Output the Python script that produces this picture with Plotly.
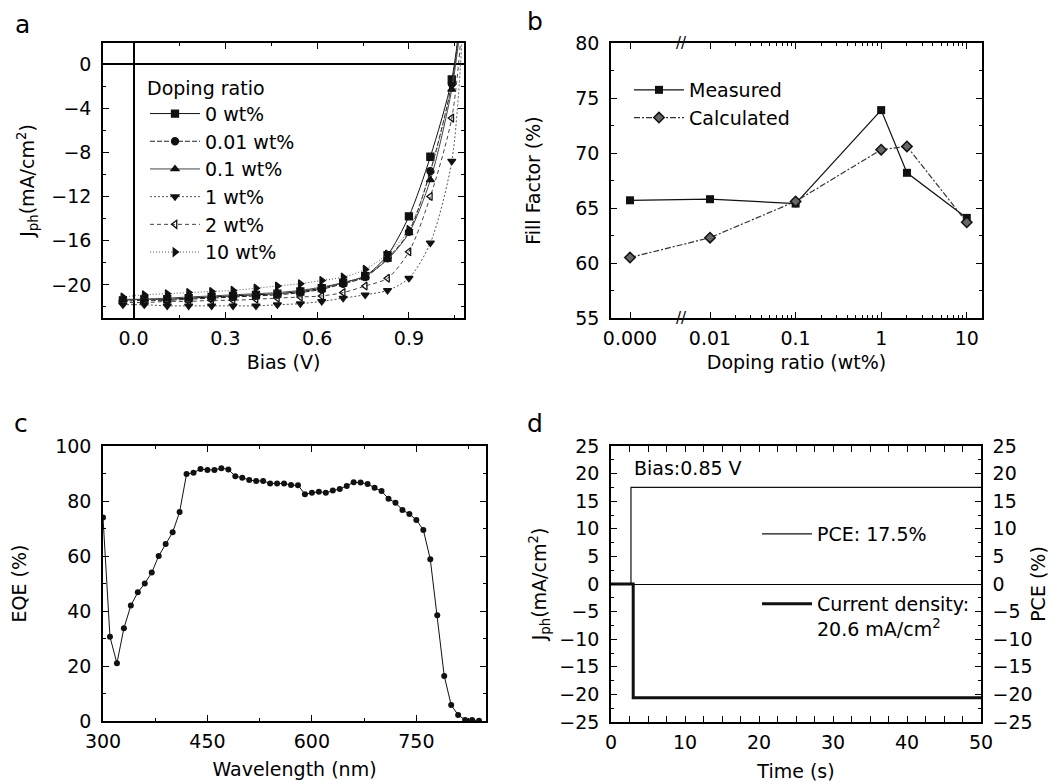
import plotly.graph_objects as go
import numpy as np

FONT = "DejaVu Sans"
FS = 19
W, H = 1062, 784
OFF = 8  # page body margin of the html page

# ---------------- panel a : J-V curves ----------------
bias_v = [-0.035, 0.035, 0.11, 0.18, 0.255, 0.325, 0.40, 0.47, 0.545, 0.615,
          0.685, 0.757, 0.83, 0.90, 0.97, 1.04, 1.075]
doping_labels = ["0 wt%", "0.01 wt%", "0.1 wt%", "1 wt%", "2 wt%", "10 wt%"]
jph_0wt = [-21.4, -21.3, -21.3, -21.2, -21.1, -21.0, -20.9, -20.8, -20.6, -20.3,
           -19.8, -19.2, -17.3, -13.8, -8.4, -1.4, 6.0]
jph_001wt = [-21.5, -21.4, -21.4, -21.3, -21.2, -21.1, -21.0, -20.9, -20.7, -20.4,
             -19.9, -19.3, -17.6, -15.2, -9.7, -1.8, 5.5]
jph_01wt = [-21.3, -21.3, -21.2, -21.1, -21.0, -20.9, -20.8, -20.7, -20.5, -20.2,
            -19.8, -19.2, -17.7, -15.3, -10.5, -2.3, 5.0]
jph_1wt = [-21.8, -21.8, -21.9, -21.9, -21.9, -21.9, -21.9, -21.8, -21.7, -21.5,
           -21.2, -20.9, -20.5, -19.4, -16.2, -8.8, 3.0]
jph_2wt = [-21.6, -21.6, -21.5, -21.5, -21.4, -21.4, -21.3, -21.2, -21.1, -21.0,
           -20.7, -20.1, -19.4, -17.0, -12.0, -4.9, 4.0]
jph_10wt = [-21.1, -20.9, -20.8, -20.7, -20.6, -20.5, -20.3, -20.1, -19.9, -19.6,
            -19.3, -18.6, -17.2, -15.0, -9.8, -1.9, 5.5]
jv_series = [jph_0wt, jph_001wt, jph_01wt, jph_1wt, jph_2wt, jph_10wt]

# ---------------- panel b : fill factor ----------------
doping_ratio = [0.0, 0.01, 0.1, 1, 2, 10]
ff_measured = [65.7, 65.8, 65.4, 73.9, 68.2, 64.1]
ff_calculated = [60.5, 62.3, 65.6, 70.3, 70.6, 63.7]
b_ticktext = ["0.000", "0.01", "0.1", "1", "10"]

# ---------------- panel c : EQE ----------------
wavelength_nm = [300, 310, 320, 330, 340, 350, 360, 370, 380, 390, 400, 410, 420,
                 430, 440, 450, 460, 470, 480, 490, 500, 510, 520, 530, 540, 550,
                 560, 570, 580, 590, 600, 610, 620, 630, 640, 650, 660, 670, 680,
                 690, 700, 710, 720, 730, 740, 750, 760, 770, 780, 790, 800, 810,
                 820, 830, 840]
eqe_pct = [74.0, 30.6, 21.0, 33.7, 42.0, 46.8, 50.0, 54.0, 60.0, 64.4, 68.6, 76.0,
           89.8, 90.3, 91.6, 91.3, 91.3, 91.9, 91.5, 89.0, 88.5, 87.6, 87.3, 87.3,
           86.4, 86.4, 86.4, 85.8, 85.7, 82.5, 83.0, 83.4, 83.0, 83.8, 84.4, 85.5,
           86.8, 86.7, 86.2, 84.8, 83.6, 80.8, 79.4, 76.7, 75.3, 73.1, 69.5, 58.8,
           38.5, 16.4, 5.8, 2.2, 0.4, 0.4, 0.1]

# ---------------- panel d : steady state ----------------
time_pce = [0, 2.7, 2.7, 50]
pce_pct = [0, 0, 17.5, 17.5]
time_jph = [0, 3.0, 3.0, 50]
jph_steady = [0, 0, -20.6, -20.6]

# break position used to place the "0.000" point on the log axis
ZERO_POS = 10 ** -2.935
BREAK_POS = 10 ** -2.33

fig = go.Figure()

jv_styles = [
    dict(symbol="square", dash="solid", color="#111111"),
    dict(symbol="circle", dash="5px,2px", color="#222222"),
    dict(symbol="triangle-up", dash="solid", color="#444444"),
    dict(symbol="triangle-down", dash="2px,2px", color="#555555"),
    dict(symbol="triangle-left-open", dash="4px,3px", color="#444444"),
    dict(symbol="triangle-right", dash="1px,2px", color="#555555"),
]
for lab, jv, st in zip(doping_labels, jv_series, jv_styles):
    fig.add_trace(go.Scatter(
        x=bias_v, y=jv, name=lab, mode="lines+markers",
        line=dict(color=st["color"], width=1, dash=st["dash"], shape="spline", smoothing=0.8),
        marker=dict(symbol=st["symbol"], size=7, color="#111111", line=dict(width=1.3, color="#111111")),
        xaxis="x", yaxis="y", legend="legend"))

b_x = [ZERO_POS if v == 0 else v for v in doping_ratio]
fig.add_trace(go.Scatter(
    x=b_x, y=ff_measured, name="Measured", mode="lines+markers",
    line=dict(color="#111111", width=1.2),
    marker=dict(symbol="square", size=8, color="#111111"),
    xaxis="x2", yaxis="y2", legend="legend2"))
fig.add_trace(go.Scatter(
    x=b_x, y=ff_calculated, name="Calculated", mode="lines+markers",
    line=dict(color="#333333", width=1.2, dash="6px,2px,2px,2px"),
    marker=dict(symbol="diamond", size=8, color="#666666", line=dict(width=1.5, color="#111111")),
    xaxis="x2", yaxis="y2", legend="legend2"))

fig.add_trace(go.Scatter(
    x=wavelength_nm, y=eqe_pct, mode="lines+markers", showlegend=False,
    line=dict(color="#111111", width=1),
    marker=dict(symbol="circle", size=6, color="#111111"),
    xaxis="x3", yaxis="y3"))

fig.add_trace(go.Scatter(
    x=time_pce, y=pce_pct, name="PCE: 17.5%", mode="lines",
    line=dict(color="#111111", width=1.2),
    xaxis="x4", yaxis="y5", legend="legend3"))
fig.add_trace(go.Scatter(
    x=time_jph, y=jph_steady, name="Current density:<br>20.6 mA/cm<sup>2</sup>", mode="lines",
    line=dict(color="#111111", width=3),
    xaxis="x4", yaxis="y4", legend="legend4"))

tfont = dict(family=FONT, size=FS, color="black")


def axis(domain, anchor, rng, title, standoff, mirror="allticks", lstand=6, **kw):
    d = dict(domain=domain, anchor=anchor, range=rng, showline=True, linecolor="black",
             linewidth=1.5, mirror=mirror, ticks="inside", ticklen=6, tickwidth=1.3,
             tickcolor="black", showgrid=False, zeroline=False, tickfont=tfont,
             automargin=False, ticklabelstandoff=lstand,
             title=dict(text=title, font=tfont, standoff=standoff),
             minor=dict(ticks="inside", ticklen=3, tickwidth=1, tickcolor="black"))
    d.update(kw)
    return d


def fx(p):
    return (p - OFF) / W


def fy(p):
    return 1 - (p - OFF) / H


def px_x(a, b):
    return [fx(a), fx(b)]


def px_y(top, bottom):
    return [fy(bottom), fy(top)]


minor_log = [m * 10 ** k for k in (-2, -1, 0) for m in range(2, 10)]

leg_common = dict(xanchor="left", yanchor="top", bgcolor="rgba(0,0,0,0)",
                  font=tfont, itemwidth=50)

fig.update_layout(
    width=W, height=H, margin=dict(l=0, r=0, t=0, b=0, autoexpand=False),
    paper_bgcolor="white", plot_bgcolor="white",
    font=tfont,
    xaxis=axis(px_x(103, 464), "y", [-0.1, 1.08], "Bias (V)", 8,
               tick0=0, dtick=0.3, tickformat=".1f", lstand=2,
               zeroline=True, zerolinecolor="black", zerolinewidth=1.5,
               minor=dict(ticks="inside", ticklen=3, tickcolor="black", dtick=0.15, tick0=0)),
    yaxis=axis(px_y(43, 318), "x", [-23, 1.9], "J<sub>ph</sub>(mA/cm<sup>2</sup>)", 12,
               tick0=0, dtick=4,
               zeroline=True, zerolinecolor="black", zerolinewidth=1.5,
               minor=dict(ticks="inside", ticklen=3, tickcolor="black", dtick=2, tick0=0)),
    xaxis2=axis(px_x(611, 982), "y2", [-3.157, 1.178], "Doping ratio (wt%)", 8,
                type="log", tickmode="array", lstand=2,
                tickvals=[ZERO_POS, 0.01, 0.1, 1, 10], ticktext=b_ticktext,
                minor=dict(ticks="inside", ticklen=3, tickcolor="black",
                           tickmode="array", tickvals=minor_log)),
    yaxis2=axis(px_y(43, 318), "x2", [55, 80], "Fill Factor (%)", 30,
                tick0=55, dtick=5,
                minor=dict(ticks="inside", ticklen=3, tickcolor="black", dtick=2.5, tick0=55)),
    xaxis3=axis(px_x(103, 486), "y3", [300, 850], "Wavelength (nm)", 12,
                tick0=300, dtick=150, lstand=2,
                minor=dict(ticks="inside", ticklen=3, tickcolor="black", dtick=75, tick0=300)),
    yaxis3=axis(px_y(446, 721), "x3", [0, 100], "EQE (%)", 24,
                tick0=0, dtick=20,
                minor=dict(ticks="inside", ticklen=3, tickcolor="black", dtick=10, tick0=0)),
    xaxis4=axis(px_x(611, 981), "y4", [0, 50], "Time (s)", 13,
                tick0=0, dtick=10, lstand=2,
                minor=dict(ticks="inside", ticklen=3, tickcolor="black", dtick=2.5, tick0=0)),
    yaxis4=axis(px_y(446, 722), "x4", [-25, 25], "J<sub>ph</sub>(mA/cm<sup>2</sup>)", 8,
                mirror=False, tick0=-25, dtick=5,
                zeroline=True, zerolinecolor="black", zerolinewidth=1,
                minor=dict(ticks="inside", ticklen=3, tickcolor="black", dtick=2.5, tick0=-25)),
    yaxis5=axis(px_y(446, 722), "x4", [-25, 25], "PCE (%)", 0,
                mirror=False, overlaying="y4", side="right", tick0=-25, dtick=5,
                minor=dict(ticks="inside", ticklen=3, tickcolor="black", dtick=2.5, tick0=-25)),
    legend=dict(x=fx(145), y=fy(70), tracegroupgap=0,
                title=dict(text="Doping ratio", font=tfont), **leg_common),
    legend2=dict(x=fx(629), y=fy(71), **leg_common),
    legend3=dict(x=fx(757), y=fy(515), **leg_common),
    legend4=dict(x=fx(757), y=fy(585), valign="top", **leg_common),
)

ann = []
for lab, x, y in [("a", 13, 24), ("b", 525, 21), ("c", 12, 423), ("d", 525, 423)]:
    ann.append(dict(text=lab, x=fx(x), y=fy(y), xref="paper", yref="paper",
                    xanchor="left", yanchor="middle", showarrow=False,
                    font=dict(family=FONT, size=25, color="black")))
ann.append(dict(text="Bias:0.85 V", x=fx(632), y=fy(468), xref="paper", yref="paper",
                xanchor="left", yanchor="middle", showarrow=False, font=tfont))
for yv in (80, 55):
    ann.append(dict(text="//", x=np.log10(BREAK_POS), y=yv, xref="x2", yref="y2",
                    xanchor="center", yanchor="middle", showarrow=False,
                    font=dict(family=FONT, size=15, color="black")))
fig.update_layout(annotations=ann)

fig.write_html("out.html")
